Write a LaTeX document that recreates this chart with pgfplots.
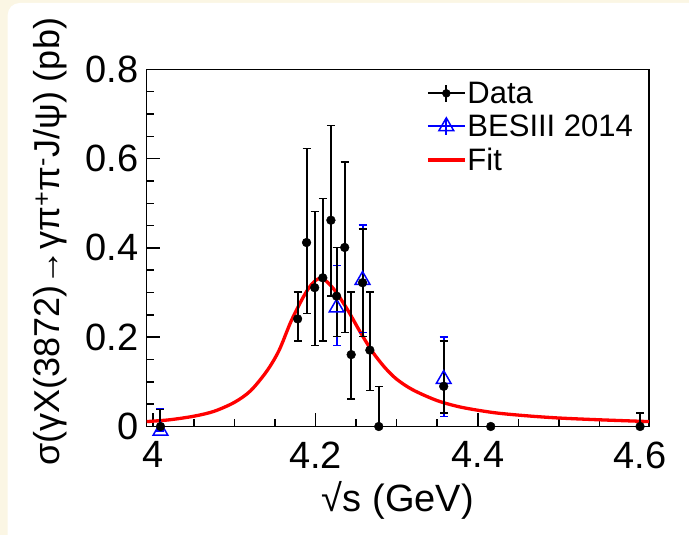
\documentclass[border=0pt]{standalone}
\usepackage{fontspec}
\setmainfont{Liberation Sans}
\usepackage{pgfplots}
\usepackage{pgfplotstable}
\pgfplotsset{compat=1.18}
\definecolor{cream}{HTML}{FBF6E4}
\definecolor{rootblue}{HTML}{0000FF}
\definecolor{rootred}{HTML}{FF0000}

\pgfplotstableread{
x      y      ep     em
4.009  0.000  0.038  0.000
4.178  0.241  0.060  0.050
4.189  0.412  0.211  0.159
4.199  0.311  0.171  0.130
4.209  0.333  0.178  0.142
4.219  0.462  0.212  0.170
4.226  0.292  0.109  0.090
4.236  0.401  0.191  0.190
4.244  0.161  0.140  0.099
4.258  0.322  0.120  0.120
4.267  0.171  0.130  0.090
4.278  0.000  0.090  0.000
4.358  0.090  0.101  0.060
4.416  0.000  0.000  0.000
4.600  0.000  0.030  0.000
}\datatable

\pgfplotstableread{
x      y       ep     em
4.009  -0.010  0.050  0.000
4.226  0.266   0.095  0.085
4.258  0.328   0.123  0.117
4.358  0.106   0.095  0.084
}\besiiitable

\pgfplotstableread{
x      y
3.992  0.011
4.020  0.015
4.050  0.023
4.075  0.034
4.100  0.054
4.120  0.080
4.140  0.124
4.155  0.170
4.170  0.236
4.185  0.290
4.195  0.318
4.204  0.331
4.213  0.326
4.225  0.302
4.240  0.260
4.255  0.212
4.270  0.168
4.285  0.133
4.300  0.106
4.320  0.082
4.350  0.058
4.380  0.043
4.420  0.031
4.460  0.024
4.500  0.019
4.550  0.015
4.611  0.011
}\fittable

\begin{document}
\begin{tikzpicture}
\fill[cream] (-146.7pt,-108.3pt) rectangle (542.3pt,426.5pt);
\fill[white, rounded corners=12pt] (-139pt,-140pt) rectangle (570pt,423.5pt);
\begin{axis}[
  at={(0pt,0pt)}, anchor=south west,
  scale only axis, width=502.3pt, height=357.2pt,
  xmin=3.992, xmax=4.611, ymin=0, ymax=0.8,
  clip=false,
  axis line style={line width=1.5pt},
  every tick/.style={line width=1.5pt, black},
  tick align=inside,
  xtick pos=bottom, ytick pos=left,
  xtick={4,4.2,4.4,4.6}, ytick={0,0.2,0.4,0.6,0.8},
  minor x tick num=3, minor y tick num=3,
  major tick length=13pt, minor tick length=7pt,
  /pgf/number format/assume math mode=true,
  tick label style={font=\fontsize{38}{42}\selectfont, inner sep=0pt},
  xticklabel style={yshift=-15pt},
  yticklabel style={xshift=-8pt},
  xlabel={√s (GeV)},
  xlabel style={at={(axis description cs:0.5,0)}, anchor=base, yshift=-85pt, font=\fontsize{38}{44}\selectfont},
  ylabel={σ(γX(3872)→γπ\textsuperscript{+}π\textsuperscript{-}J/ψ) (pb)},
  ylabel style={at={(axis description cs:-0.1926,0.517)}, anchor=center, rotate=0, font=\fontsize{36}{42}\selectfont},
  reverse legend,
  legend style={draw=none, fill=none, at={(0.556,0.968)}, anchor=north west,
    font=\fontsize{31}{36}\selectfont, inner sep=0pt, row sep=8pt,
    nodes={inner sep=1pt}},
  legend cell align=left,
]
\addplot[rootred, line width=3.3pt, smooth,
  legend image code/.code={\draw[rootred, line width=3.3pt] (0pt,0pt) -- (37pt,0pt);}]
  table[x=x,y=y] {\fittable};
\addlegendentry{Fit}

\addplot[rootblue, only marks, mark=triangle, mark size=8.5pt, mark options={line width=1.5pt},
  legend image code/.code={
    \draw[rootblue, line width=2pt] (0pt,0pt) -- (37pt,0pt);
    \draw[rootblue, line width=2pt] (18.5pt,-8.5pt) -- (18.5pt,8.5pt);
    \path[draw=rootblue, line width=1.5pt] plot[mark=triangle, mark size=8.5pt, only marks] coordinates {(18.5pt,0pt)};},
  error bars/.cd, y dir=both, y explicit,
  error bar style={line width=2pt, rootblue}, error mark options={rotate=90, mark size=4pt, line width=1.5pt},
  ] table[x=x,y=y,y error plus=ep,y error minus=em] {\besiiitable};
\addlegendentry{BESIII 2014}

\addplot[black, only marks, mark=*, mark size=4.4pt,
  legend image code/.code={
    \draw[black, line width=2pt] (0pt,0pt) -- (37pt,0pt);
    \draw[black, line width=2pt] (18.5pt,-8.5pt) -- (18.5pt,8.5pt);
    \path[draw=black, fill=black] plot[mark=*, mark size=4pt, only marks] coordinates {(18.5pt,0pt)};},
  error bars/.cd, y dir=both, y explicit,
  error bar style={line width=2pt, black}, error mark options={rotate=90, mark size=4pt, line width=1.5pt},
  ] table[x=x,y=y,y error plus=ep,y error minus=em] {\datatable};
\addlegendentry{Data}
\end{axis}
\pgfresetboundingbox
\useasboundingbox (-146.7pt,-108.3pt) rectangle (542.3pt,426.5pt);
\end{tikzpicture}
\end{document}
